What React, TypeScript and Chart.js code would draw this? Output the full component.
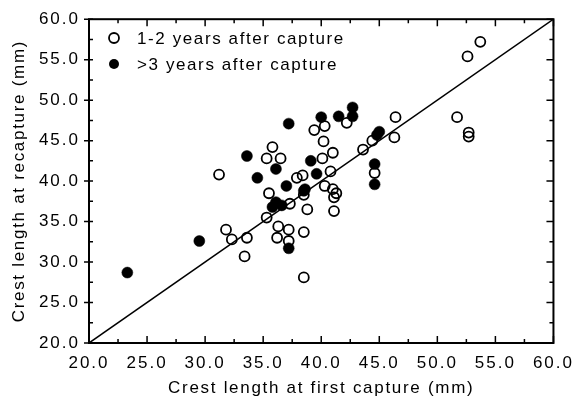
import React, { useEffect, useRef } from "react";
import { Chart, registerables } from "chart.js";

Chart.register(...registerables);

// 1-2 years after capture (open circles)
const openX = [31.2, 35.8, 35.3, 36.5, 39.4, 40.3, 40.2, 40.1, 53.7, 52.6, 51.7, 52.7, 52.7, 46.4, 46.3, 42.2, 41.0, 43.6, 44.4, 40.8, 44.6, 38.4, 37.9, 35.5, 37.3, 38.5, 38.8, 35.3, 36.3, 37.2, 36.2, 37.2, 38.5, 31.8, 32.3, 33.6, 33.4, 38.5, 40.3, 41.0, 41.3, 41.1, 41.1];
const openY = [40.8, 44.2, 42.8, 42.8, 46.3, 46.8, 44.9, 42.8, 57.2, 55.4, 47.9, 46.0, 45.5, 47.9, 45.4, 47.2, 43.5, 43.9, 45.0, 41.2, 41.0, 40.7, 40.4, 38.5, 37.2, 38.3, 36.5, 35.5, 34.4, 34.0, 33.0, 32.6, 33.7, 34.0, 32.8, 33.0, 30.7, 28.1, 39.4, 39.0, 38.5, 38.0, 36.3];

// >3 years after capture (filled circles)
const filledX = [23.3, 29.5, 33.6, 36.1, 34.5, 37.0, 39.1, 39.6, 38.5, 36.1, 35.8, 36.6, 37.2, 37.2, 40.0, 41.5, 42.7, 42.7, 44.8, 45.0, 44.6, 44.6, 38.6];
const filledY = [28.7, 32.6, 43.1, 41.5, 40.4, 39.4, 42.5, 40.9, 38.8, 37.4, 36.8, 37.0, 31.7, 47.1, 47.9, 48.0, 49.1, 48.0, 45.7, 46.1, 42.1, 39.6, 39.0];

// line of equality
const lineX = [20, 60];
const lineY = [20, 60];

const legendLabels = ["1-2 years after capture", ">3 years after capture"];
const xTitle = "Crest length at first capture (mm)";
const yTitle = "Crest length at recapture (mm)";
const axisMin = 20;
const axisMax = 60;
const majorStep = 5;
const minorStep = 2.5;

const FONT = "'Liberation Sans', Arial, Helvetica, sans-serif";

const toPoints = (xs: number[], ys: number[]) => xs.map((x, i) => ({ x, y: ys[i] }));

const spacingPlugin = {
  id: "spacing",
  beforeDraw(chart: any) {
    Object.values(chart.scales).forEach((s: any) => {
      if (s._spPatched) return;
      s._spPatched = true;
      const dl = s.drawLabels.bind(s);
      s.drawLabels = (area: any) => {
        const c = s.ctx;
        c.save();
        c.letterSpacing = "2px";
        dl(area);
        c.restore();
      };
      const dt = s.drawTitle.bind(s);
      s.drawTitle = () => {
        const c = s.ctx;
        c.save();
        c.letterSpacing = "1.7px";
        dt();
        c.restore();
      };
    });
  },
};

const framePlugin = {
  id: "frame",
  afterDatasetsDraw(chart: any) {
    const { ctx, chartArea } = chart;
    const { left, right, top, bottom } = chartArea;
    const xs = chart.scales.x;
    const ys = chart.scales.y;
    ctx.save();
    ctx.strokeStyle = "#000";
    ctx.lineWidth = 2;
    ctx.strokeRect(left, top, right - left, bottom - top);
    ctx.lineWidth = 1.5;
    ctx.beginPath();
    for (let v = axisMin; v <= axisMax + 1e-6; v += minorStep) {
      const major = Math.abs(v / majorStep - Math.round(v / majorStep)) < 1e-6;
      const px = xs.getPixelForValue(v);
      const py = ys.getPixelForValue(v);
      const inLen = major ? 7 : 4;
      ctx.moveTo(px, bottom);
      ctx.lineTo(px, bottom - inLen);
      ctx.moveTo(px, top);
      ctx.lineTo(px, top + inLen);
      ctx.moveTo(right, py);
      ctx.lineTo(right - inLen, py);
      if (major) {
        ctx.moveTo(left - 5, py);
        ctx.lineTo(left + 4, py);
      } else {
        ctx.moveTo(left, py);
        ctx.lineTo(left + 4, py);
      }
    }
    ctx.stroke();
    ctx.restore();
  },
  afterDraw(chart: any) {
    const { ctx } = chart;
    ctx.save();
    ctx.font = `17px ${FONT}`;
    ctx.letterSpacing = "1.6px";
    ctx.textBaseline = "middle";
    ctx.fillStyle = "#000";
    const rows = [
      { y: 39, filled: false },
      { y: 65, filled: true },
    ];
    rows.forEach((r, i) => {
      ctx.beginPath();
      ctx.arc(114, r.y - 1, 5, 0, Math.PI * 2);
      if (r.filled) {
        ctx.fill();
      } else {
        ctx.lineWidth = 1.8;
        ctx.strokeStyle = "#000";
        ctx.stroke();
      }
      ctx.fillText(legendLabels[i], 137, r.y);
    });
    ctx.restore();
  },
};

export default function App() {
  const ref = useRef<HTMLCanvasElement | null>(null);
  useEffect(() => {
    if (!ref.current) return;
    const chart = new Chart(ref.current, {
      type: "scatter",
      data: {
        datasets: [
          {
            label: legendLabels[1],
            data: toPoints(filledX, filledY),
            pointRadius: 5.5,
            pointBackgroundColor: "#000",
            pointBorderColor: "#000",
            pointBorderWidth: 0.5,
            order: 0,
          },
          {
            label: legendLabels[0],
            data: toPoints(openX, openY),
            pointRadius: 5,
            pointBackgroundColor: "rgba(0,0,0,0)",
            pointBorderColor: "#000",
            pointBorderWidth: 1.8,
            order: 1,
          },
          {
            label: "y = x",
            data: toPoints(lineX, lineY),
            showLine: true,
            pointRadius: 0,
            borderColor: "#000",
            borderWidth: 1.5,
            order: 2,
          } as any,
        ],
      },
      options: {
        animation: false,
        responsive: true,
        maintainAspectRatio: false,
        layout: { padding: { top: 17, right: 25, left: 0, bottom: 0 } },
        plugins: { legend: { display: false }, tooltip: { enabled: false } },
        scales: {
          x: {
            type: "linear",
            min: axisMin,
            max: axisMax,
            afterFit: (s: any) => {
              s.height = 61;
            },
            grid: { display: false, drawTicks: false },
            border: { display: false },
            ticks: {
              stepSize: majorStep,
              padding: 10,
              color: "#000",
              font: { family: FONT, size: 17 },
              callback: (v: any) => Number(v).toFixed(1),
              maxRotation: 0,
            },
            title: {
              display: true,
              text: xTitle,
              color: "#000",
              font: { family: FONT, size: 17 },
              padding: { top: 0, bottom: 5 },
            },
          },
          y: {
            type: "linear",
            min: axisMin,
            max: axisMax,
            afterFit: (s: any) => {
              s.width = 89;
            },
            grid: { display: false, drawTicks: false },
            border: { display: false },
            ticks: {
              stepSize: majorStep,
              padding: 9,
              color: "#000",
              font: { family: FONT, size: 17 },
              callback: (v: any) => Number(v).toFixed(1),
            },
            title: {
              display: true,
              text: yTitle,
              color: "#000",
              font: { family: FONT, size: 17 },
              padding: { top: 9, bottom: 0 },
            },
          },
        },
      },
      plugins: [spacingPlugin, framePlugin],
    });
    return () => chart.destroy();
  }, []);
  return (
    <div style={{ position: "fixed", left: 0, top: 0, width: 580, height: 404, background: "#fff" }}>
      <canvas ref={ref} />
    </div>
  );
}
